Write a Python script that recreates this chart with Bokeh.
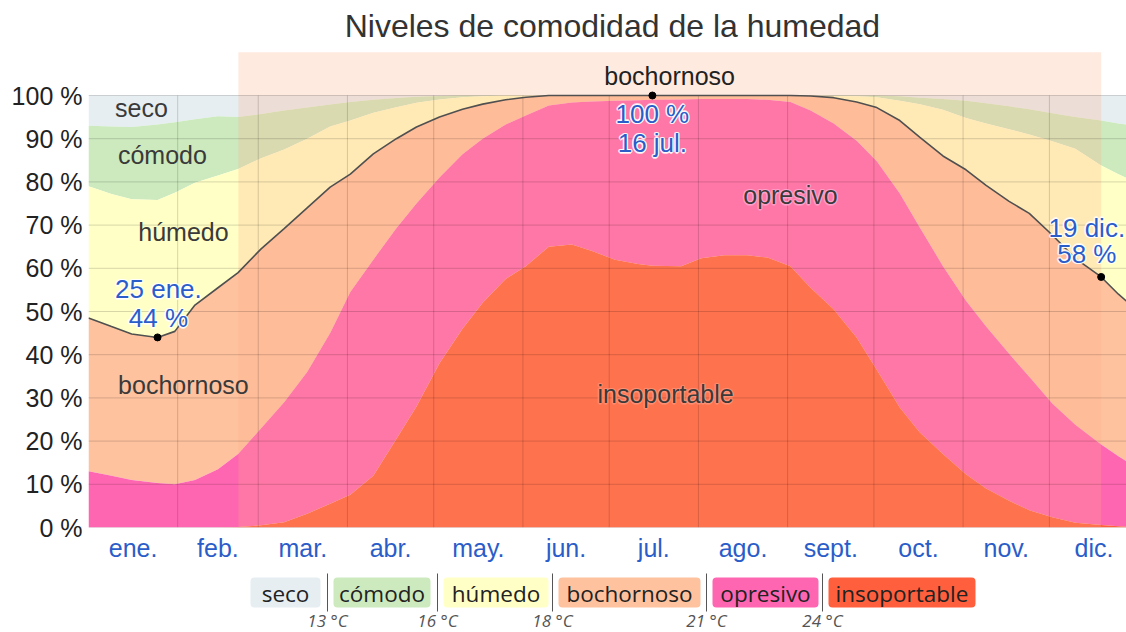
import numpy as np
from bokeh.plotting import figure
from bokeh.models import Range1d, FixedTicker
from bokeh.layouts import column
from bokeh.embed import file_html
from bokeh.resources import INLINE
from bokeh.core.properties import value

# ---------------- data (day of year, cumulative % upper limit of each band) ----------------
dias = [0, 8, 15, 24, 30, 37, 45, 52, 60, 68, 76, 84, 91, 99, 107, 114, 122, 130, 137, 145,
        152, 160, 168, 175, 183, 191, 196, 206, 213, 221, 229, 236, 244, 251, 259, 267, 274,
        282, 289, 297, 305, 312, 320, 327, 335, 343, 352, 358, 365]

lim_insoportable = [0, 0, 0, 0, 0, 0, 0, 0.1, 0.5, 1.2, 3.2, 5.5, 7.6, 12, 20.5, 28, 38, 46, 52, 57.5,
                    60.5, 65, 65.5, 64, 62, 61, 60.6, 60.5, 62.3, 63, 63, 62.5, 60.5, 55.5, 50.5, 44, 36.5,
                    27.8, 22, 17, 12.3, 9, 6.2, 4, 2.4, 1.1, 0.6, 0.3, 0]

lim_opresivo = [13, 12, 11, 10.3, 10, 11, 13.5, 17, 23, 29, 36, 45, 54.5, 62, 69.3, 75, 81, 86.4, 90, 93.3,
                95.4, 97.7, 98.4, 98.6, 98.8, 98.9, 99, 99.1, 99.2, 99.2, 99.2, 99, 98.5, 96.5, 93.5, 89.5, 84.8,
                77.3, 69.4, 60.5, 52.5, 46.5, 40.2, 34.9, 28.7, 23.8, 19.2, 16.5, 13.5]

lim_bochornoso = [48.5, 46.5, 44.8, 44, 45.4, 51.5, 55.5, 59, 64.5, 69.2, 74, 78.8, 81.8, 86.5, 90, 92.7, 95, 96.8, 98, 99,
                  99.6, 100, 100, 100, 100, 100, 100, 100, 100, 100, 100, 100, 100, 99.9, 99.5, 98.5, 97.2,
                  94.2, 90.3, 86, 82.8, 79.2, 75.5, 72.7, 67.7, 62.3, 58, 54, 50]

lim_humedo = [79, 77.2, 76, 75.8, 77.5, 79.8, 81.5, 83, 85.5, 87.5, 90, 92.8, 94.2, 96, 97.3, 98.3, 99.1, 99.6, 99.8, 100,
              100, 100, 100, 100, 100, 100, 100, 100, 100, 100, 100, 100, 100, 100, 99.9, 99.8, 99.6,
              98.8, 98, 96.7, 94.8, 93.5, 92.2, 91, 89.4, 87.7, 83.8, 81.8, 79.5]

lim_comodo = [93, 92.8, 92.7, 93.3, 93.8, 94.5, 95.2, 95, 95.7, 96.5, 97.2, 97.9, 98.5, 99, 99.4, 99.7, 99.9, 100, 100, 100,
              100, 100, 100, 100, 100, 100, 100, 100, 100, 100, 100, 100, 100, 100, 100, 100, 100,
              99.8, 99.5, 99.2, 98.8, 98.2, 97.5, 96.8, 95.9, 95, 94.2, 93.5, 93]

lim_seco = [100] * len(dias)

categorias = ["seco", "cómodo", "húmedo", "bochornoso", "opresivo", "insoportable"]
colores = ["#E6EEF2", "#CCEABE", "#FFFFC6", "#FEC29F", "#FF66B2", "#FF5F3C"]
umbrales = ["13 °C", "16 °C", "18 °C", "21 °C", "24 °C"]

meses = ["ene.", "feb.", "mar.", "abr.", "may.", "jun.", "jul.", "ago.", "sept.", "oct.", "nov.", "dic."]
inicio_mes = [0, 31, 59, 90, 120, 151, 181, 212, 243, 273, 304, 334, 365]

periodo_bochornoso = (52.1, 352)          # días del año
anot_dias = [24, 196, 352]
anot_fechas = ["25 ene.", "16 jul.", "19 dic."]

FONT = "Liberation Sans"
AZUL = "#2B5DC9"
GRIS = "#3a3a3a"

# ---------------- main chart ----------------
p = figure(width=1126, height=572, x_range=Range1d(0, 360.8), y_range=Range1d(0, 120.14),
           output_backend="svg", toolbar_location=None,
           min_border_left=88, min_border_right=0, min_border_top=8, min_border_bottom=45)
p.outline_line_color = None
p.xgrid.visible = False
p.ygrid.visible = False
p.background_fill_color = "white"
p.border_fill_color = "white"

limites = [lim_seco, lim_comodo, lim_humedo, lim_bochornoso, lim_opresivo, lim_insoportable, [0] * len(dias)]
for i, (cat, col) in enumerate(zip(categorias, colores)):
    p.varea(x=dias, y1=limites[i + 1], y2=limites[i], fill_color=col, fill_alpha=1.0)

# overlay for the muggy period (incl. band above the chart)
p.quad(left=[periodo_bochornoso[0]], right=[periodo_bochornoso[1]], bottom=[0], top=[110],
       fill_color="#FFAA82", fill_alpha=0.25, line_color=None)

# grid lines
yticks = list(range(0, 101, 10))
p.segment(x0=[0] * len(yticks), x1=[360.8] * len(yticks), y0=yticks, y1=yticks,
          line_color="black", line_alpha=0.16, line_width=1)
p.segment(x0=inicio_mes[1:-1], x1=inicio_mes[1:-1], y0=[0] * 11, y1=[100] * 11,
          line_color="black", line_alpha=0.16, line_width=1)

# boundary line
p.line(dias, lim_bochornoso, line_color="#505050", line_width=1.6)

# annotations
anot_vals = [lim_bochornoso[dias.index(d)] for d in anot_dias]
p.scatter(anot_dias, anot_vals, size=7, color="black")


def texto(x, y, t, color, size, halo=None, align="center", halo_alpha=0.7):
    if halo:
        for dx, dy in [(-1.5, 0), (1.5, 0), (0, -1.5), (0, 1.5), (-1, -1), (1, 1), (-1, 1), (1, -1)]:
            p.text(x=[x], y=[y], text=[t], x_offset=dx, y_offset=dy, text_color=halo, text_alpha=halo_alpha,
                   text_font=value(FONT), text_font_size=size, text_align=align, text_baseline="middle")
    p.text(x=[x], y=[y], text=[t], text_color=color, text_font=value(FONT), text_font_size=size,
           text_align=align, text_baseline="middle")


texto(24.3, 55.1, anot_fechas[0], AZUL, "26px", halo="white")
texto(24.3, 48.4, f"{anot_vals[0]:.0f} %", AZUL, "26px", halo="white")
texto(196, 95.8, f"{anot_vals[1]:.0f} %", AZUL, "26px", halo="white")
texto(196, 88.9, anot_fechas[1], AZUL, "26px", halo="white")
texto(347.0, 69.4, anot_fechas[2], AZUL, "26px", halo="white")
texto(347.0, 63.4, f"{anot_vals[2]:.0f} %", AZUL, "26px", halo="white")

# band labels
texto(18.4, 97.0, "seco", GRIS, "25px")
texto(25.7, 86.3, "cómodo", GRIS, "25px")
texto(33.0, 68.3, "húmedo", GRIS, "25px")
texto(33.0, 32.9, "bochornoso", GRIS, "25px")
texto(244.0, 76.9, "opresivo", GRIS, "25px", halo="#FFB0D8", halo_alpha=0.45)
texto(200.6, 30.8, "insoportable", GRIS, "25px", halo="#FF9A80", halo_alpha=0.45)
texto(202.0, 104.4, "bochornoso", "#222222", "25px")

# title
texto(182.1, 116.2, "Niveles de comodidad de la humedad", "#333333", "32px")

# axes
p.yaxis.ticker = FixedTicker(ticks=yticks)
p.yaxis.major_label_overrides = {t: f"{t} %" for t in yticks}
p.yaxis.major_label_text_font = FONT
p.yaxis.major_label_text_font_size = "25px"
p.yaxis.major_label_text_color = "#222222"
p.yaxis.axis_line_color = None
p.yaxis.major_tick_line_color = None
p.yaxis.minor_tick_line_color = None
p.yaxis.major_label_standoff = 0

centros = [(inicio_mes[i] + inicio_mes[i + 1]) / 2 for i in range(12)]
p.xaxis.ticker = FixedTicker(ticks=centros)
p.xaxis.major_label_overrides = {c: m for c, m in zip(centros, meses)}
p.xaxis.major_label_text_font = FONT
p.xaxis.major_label_text_font_size = "25px"
p.xaxis.major_label_text_color = AZUL
p.xaxis.axis_line_color = None
p.xaxis.major_tick_line_color = None
p.xaxis.minor_tick_line_color = None
p.xaxis.major_label_standoff = 0

# ---------------- legend strip ----------------
q = figure(width=1126, height=60, x_range=Range1d(88, 1126), y_range=Range1d(632, 572),
           output_backend="svg", toolbar_location=None, x_axis_location=None, y_axis_location=None,
           min_border_left=88, min_border_right=0, min_border_top=0, min_border_bottom=0)
q.outline_line_color = None
q.xgrid.visible = False
q.ygrid.visible = False

caja_izq = [250, 333, 443, 558, 712, 828]
caja_der = [320, 430, 548, 700, 818, 975]
separadores = [327, 437, 552, 706, 822]

q.quad(left=caja_izq, right=caja_der, top=[577] * 6, bottom=[607] * 6, fill_color=colores,
       line_color=None, border_radius=4)
q.text(x=[(a + b) / 2 for a, b in zip(caja_izq, caja_der)], y=[592.5] * 6, text=categorias,
       text_font=value("Open Sans"), text_font_size="22.5px", text_color="#222222",
       text_align="center", text_baseline="middle")
q.segment(x0=separadores, x1=separadores, y0=[573] * 5, y1=[611] * 5, line_color="#555555", line_width=1)
q.text(x=separadores, y=[620] * 5, text=umbrales, text_font=value("Open Sans"), text_font_size="17px",
       text_font_style="italic", text_color="#555555", text_align="center", text_baseline="middle")

layout = column(p, q, spacing=0)
open("out.html", "w").write(file_html(layout, INLINE))
